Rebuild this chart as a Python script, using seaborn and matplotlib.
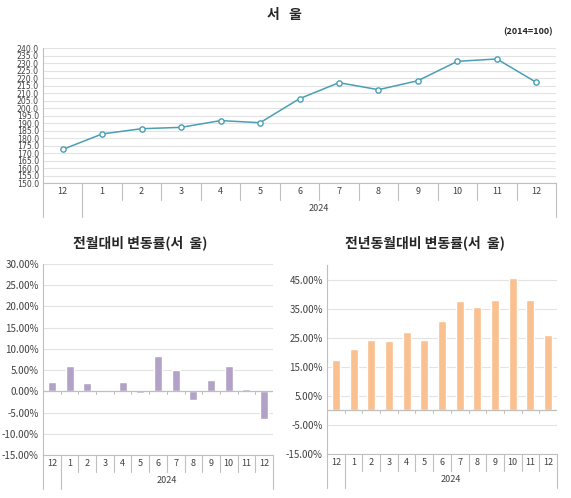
import numpy as np
import seaborn as sns
import matplotlib
matplotlib.use("Agg")
import matplotlib.pyplot as plt
import matplotlib.transforms as mtransforms

# data
months = ["12", "1", "2", "3", "4", "5", "6", "7", "8", "9", "10", "11", "12"]
year_label = "2024"
index_vals = [172.4, 182.7, 186.2, 187.1, 191.6, 190.2, 206.2, 216.9, 212.2, 218.2, 231.1, 232.7, 217.1]
mom_vals = [2.28, 6.06, 1.97, 0.30, 2.28, -0.47, 8.34, 4.96, -1.97, 2.67, 6.06, 0.47, -6.53]
yoy_vals = [17.4, 21.1, 24.05, 23.9, 26.8, 24.3, 30.9, 37.6, 35.5, 38.0, 45.7, 38.1, 25.9]

sns.set_style("white")
plt.rcParams['font.family'] = ['Noto Sans CJK KR', 'DejaVu Sans']

W, H = 571, 498
fig = plt.figure(figsize=(W / 100, H / 100), dpi=100)

def px_axes(l, t, r, b):
    return fig.add_axes([l / W, 1 - b / H, (r - l) / W, (b - t) / H])

grid_c = "#e3e3e3"
axis_c = "#bfbfbf"
txt_c = "#404040"
pos = np.arange(len(months))

def cat_table(ax, hpx, short_px, long_px):
    # month labels + separators under the plot, like an Excel category axis
    tr = mtransforms.blended_transform_factory(ax.transData, ax.transAxes)
    s = short_px / hpx
    lg = long_px / hpx
    for k in range(len(months) + 1):
        xb = k - 0.5
        depth = lg if k in (0, 1, len(months)) else s
        ax.plot([xb, xb], [0, -depth], transform=tr, color=axis_c, lw=0.8, clip_on=False)
    for i, m in enumerate(months):
        ax.text(i, -s / 2, m, transform=tr, ha="center", va="center", fontsize=6.5, color=txt_c)
    ax.text(6.5, -(s + lg) / 2, year_label, transform=tr, ha="center", va="center", fontsize=6.5, color=txt_c)

def style_axes(ax):
    ax.set_xlim(-0.5, 12.5)
    ax.set_xticks([])
    ax.grid(axis="y", color=grid_c, lw=0.8)
    for sp in ["top", "right"]:
        ax.spines[sp].set_visible(False)
    ax.spines["left"].set_color(axis_c)
    ax.spines["bottom"].set_color(axis_c)

# ---- top: index line ----
ax1 = px_axes(43, 48, 556, 183)
sns.lineplot(x=pos, y=index_vals, ax=ax1, color="#4a9fb3", lw=1.1, marker="o",
             markersize=3.8, markerfacecolor="white", markeredgecolor="#4a9fb3", markeredgewidth=1)
style_axes(ax1)
ax1.set_ylim(150, 240)
yt1 = np.arange(150, 241, 5)
ax1.set_yticks(yt1)
ax1.set_yticklabels([f"{v:.1f}" for v in yt1], fontsize=5.6, color=txt_c, family="DejaVu Sans")
ax1.tick_params(axis="y", length=2, pad=1, color=axis_c)
cat_table(ax1, 135, 17, 34)
fig.text(284 / W, 1 - 15 / H, "서   울", ha="center", va="center", fontsize=10, fontweight="bold")
fig.text(553 / W, 1 - 32 / H, "(2014=100)", ha="right", va="center", fontsize=6.5, fontweight="bold")

# ---- bottom left: month on month ----
ax2 = px_axes(43, 264, 273, 455)
sns.barplot(x=pos, y=mom_vals, ax=ax2, color="#b3a2c7", saturation=1, width=0.45)
style_axes(ax2)
ax2.set_ylim(-15, 30)
yt2 = np.arange(-15, 31, 5)
ax2.set_yticks(yt2)
ax2.set_yticklabels([f"{v:.2f}%" for v in yt2], fontsize=7, color=txt_c)
ax2.tick_params(axis="y", length=0, pad=3)
ax2.axhline(0, color=axis_c, lw=0.9)
cat_table(ax2, 191, 17, 34)
for k in range(len(months) + 1):
    ax2.plot([k - 0.5, k - 0.5], [0, -0.6], color=axis_c, lw=0.7)
fig.text(140 / W, 1 - 243 / H, "전월대비 변동률(서  울)", ha="center", va="center", fontsize=10, fontweight="bold")

# ---- bottom right: year on year ----
ax3 = px_axes(327, 265, 557, 454)
sns.barplot(x=pos, y=yoy_vals, ax=ax3, color="#fac090", saturation=1, width=0.45)
style_axes(ax3)
ax3.set_ylim(-15, 50)
yt3 = np.arange(-15, 50, 10)
ax3.set_yticks(yt3)
ax3.set_yticklabels([f"{v:.2f}%" for v in yt3], fontsize=7, color=txt_c)
ax3.tick_params(axis="y", length=0, pad=3)
ax3.axhline(0, color=axis_c, lw=0.9)
cat_table(ax3, 189, 17, 34)
for k in range(len(months) + 1):
    ax3.plot([k - 0.5, k - 0.5], [0, -0.8], color=axis_c, lw=0.7)
fig.text(425 / W, 1 - 243 / H, "전년동월대비 변동률(서  울)", ha="center", va="center", fontsize=10, fontweight="bold")

fig.savefig("out.png", dpi=100)
